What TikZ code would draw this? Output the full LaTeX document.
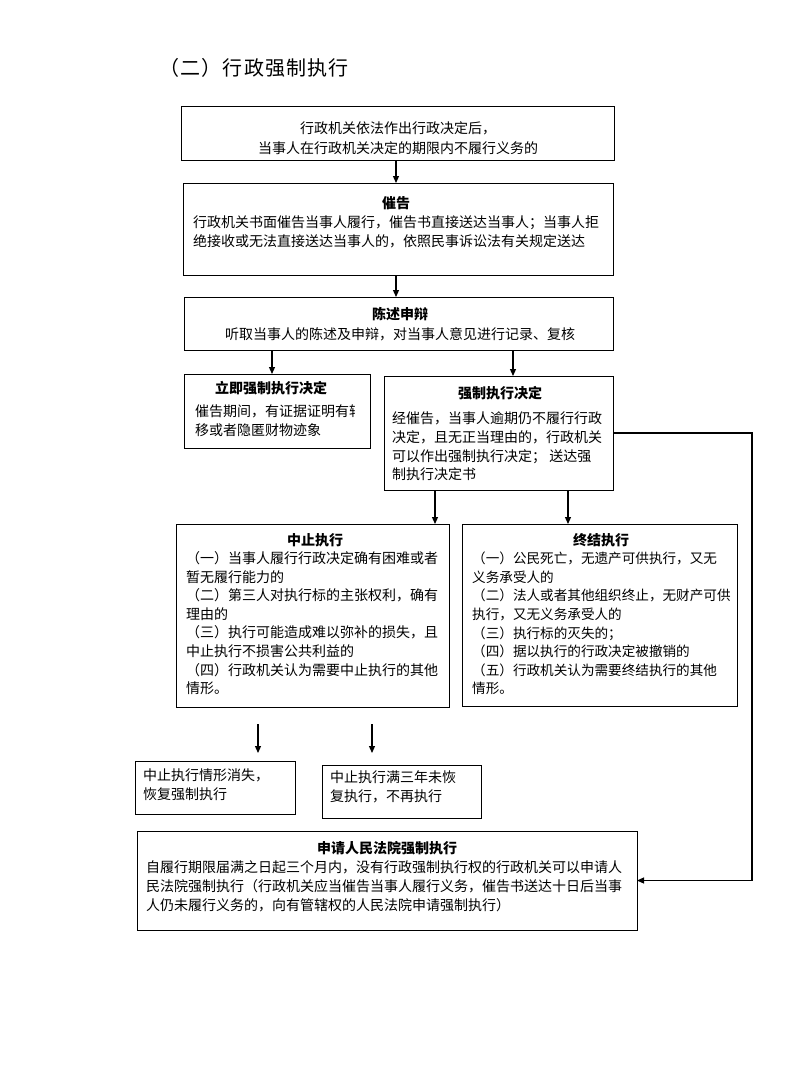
\documentclass[tikz,border=0pt]{standalone}
\usepackage{fontspec}
\setmainfont{Noto Sans CJK SC}
\usetikzlibrary{arrows.meta}
\newcommand{\stt}{\rule{0pt}{13pt}}
\newcommand{\sttb}{\rule{0pt}{18pt}}
\tikzset{
  box/.style={draw, line width=0.9pt, inner sep=0pt, outer sep=0pt, anchor=north west},
  ttl/.style={font=\bfseries\fontsize{14}{19}\selectfont, inner sep=0pt, anchor=north},
  body/.style={font=\fontsize{14}{19}\selectfont, inner sep=0pt, anchor=north west, align=left},
  cbody/.style={font=\fontsize{14}{20}\selectfont, inner sep=0pt, anchor=north, align=center},
  arr/.style={line width=1.2pt, -{Triangle[length=7pt,width=6pt]}},
}
\begin{document}
\begin{tikzpicture}[x=1pt,y=-1pt]
\useasboundingbox (0,0) rectangle (789,1065);
% title
\node[inner sep=0pt, anchor=north west, font=\fontsize{20}{24}\selectfont\addfontfeature{LetterSpace=6}] (title) at (159,57.6) {\sttb（二）行政强制执行};
% boxes
\node[box, minimum width=433pt, minimum height=54pt] (n1) at (181,106) {};
\node[box, minimum width=430pt, minimum height=92pt] (n2) at (183,183) {};
\node[box, minimum width=429pt, minimum height=53pt] (n3) at (184,297) {};
\node[box, minimum width=186pt, minimum height=74pt] (n4) at (184,374) {};
\node[box, minimum width=229pt, minimum height=114pt] (n5) at (384,376) {};
\node[box, minimum width=273pt, minimum height=183pt] (n6) at (176,524) {};
\node[box, minimum width=275pt, minimum height=182pt] (n7) at (462,524) {};
\node[box, minimum width=160pt, minimum height=53pt] (n8) at (135,761) {};
\node[box, minimum width=159pt, minimum height=53pt] (n9) at (322,765) {};
\node[box, minimum width=500pt, minimum height=99pt] (n10) at (137,831) {};
% texts
\node[cbody] (b1) at (398,120.3) {\stt 行政机关依法作出行政决定后，\\当事人在行政机关决定的期限内不履行义务的};
\node[ttl] (t2) at (396,195.3) {\stt 催告};
\node[body] (b2) at (193,214.3) {\stt 行政机关书面催告当事人履行，催告书直接送达当事人；当事人拒\\绝接收或无法直接送达当事人的，依照民事诉讼法有关规定送达};
\node[ttl] (t3) at (400,306.3) {\stt 陈述申辩};
\node[cbody] (b3) at (400,326.3) {\stt 听取当事人的陈述及申辩，对当事人意见进行记录、复核};
\node[ttl] (t4) at (271,380.3) {\stt 立即强制执行决定};
\begin{scope}
\clip (184,374) rectangle (354,448);
\node[body] (b4) at (195,403.3) {\stt 催告期间，有证据证明有转\\移或者隐匿财物迹象};
\end{scope}
\node[ttl] (t5) at (500,385.3) {\stt 强制执行决定};
\node[body, font=\fontsize{14}{18.8}\selectfont] (b5) at (392,410.3) {\stt 经催告，当事人逾期仍不履行行政\\决定，且无正当理由的，行政机关\\可以作出强制执行决定； 送达强\\制执行决定书};
\node[ttl] (t6) at (315,532.3) {\stt 中止执行};
\node[body, font=\fontsize{14}{18.6}\selectfont] (b6) at (186,550.3) {\stt （一）当事人履行行政决定确有困难或者\\暂无履行能力的\\（二）第三人对执行标的主张权利，确有\\理由的\\（三）执行可能造成难以弥补的损失，且\\中止执行不损害公共利益的\\（四）行政机关认为需要中止执行的其他\\情形。};
\node[ttl] (t7) at (601,532.3) {\stt 终结执行};
\node[body, font=\fontsize{13.6}{18.6}\selectfont] (b7) at (472,550.5) {\stt （一）公民死亡，无遗产可供执行，又无\\义务承受人的\\（二）法人或者其他组织终止，无财产可供\\执行，又无义务承受人的\\（三）执行标的灭失的；\\（四）据以执行的行政决定被撤销的\\（五）行政机关认为需要终结执行的其他\\情形。};
\node[body] (b8) at (143,767.3) {\stt 中止执行情形消失，\\恢复强制执行};
\node[body] (b9) at (330,769.3) {\stt 中止执行满三年未恢\\复执行，不再执行};
\node[ttl] (t10) at (387,840.3) {\stt 申请人民法院强制执行};
\node[body] (b10) at (146,859.3) {\stt 自履行期限届满之日起三个月内，没有行政强制执行权的行政机关可以申请人\\民法院强制执行（行政机关应当催告当事人履行义务，催告书送达十日后当事\\人仍未履行义务的，向有管辖权的人民法院申请强制执行）};
% connectors
\coordinate (p12) at ([xshift=-1.5pt]n1.south);
\draw[arr] (p12) -- (p12 |- n2.north);
\coordinate (p23) at ([xshift=-2pt]n2.south);
\draw[arr] (p23) -- (p23 |- n3.north);
\coordinate (p34) at ([xshift=-5pt]n4.north);
\draw[arr] (p34 |- n3.south) -- (p34);
\coordinate (p35) at ([xshift=14.5pt]n5.north);
\draw[arr] (p35 |- n3.south) -- (p35);
\coordinate (p56) at ([xshift=51pt]n5.south west);
\draw[arr] (p56) -- (p56 |- n6.north);
\coordinate (p57) at ([xshift=184pt]n5.south west);
\draw[arr] (p57) -- (p57 |- n7.north);
\coordinate (rt) at ([xshift=139pt]n5.east);
\draw[arr] (n5.east) -- (rt) |- (n10.east);
\coordinate (f1s) at (258,724);
\coordinate (f1e) at (258,753);
\coordinate (f2s) at (372,724);
\coordinate (f2e) at (372,753);
\draw[arr] (f1s) -- (f1e);
\draw[arr] (f2s) -- (f2e);
\end{tikzpicture}
\end{document}
